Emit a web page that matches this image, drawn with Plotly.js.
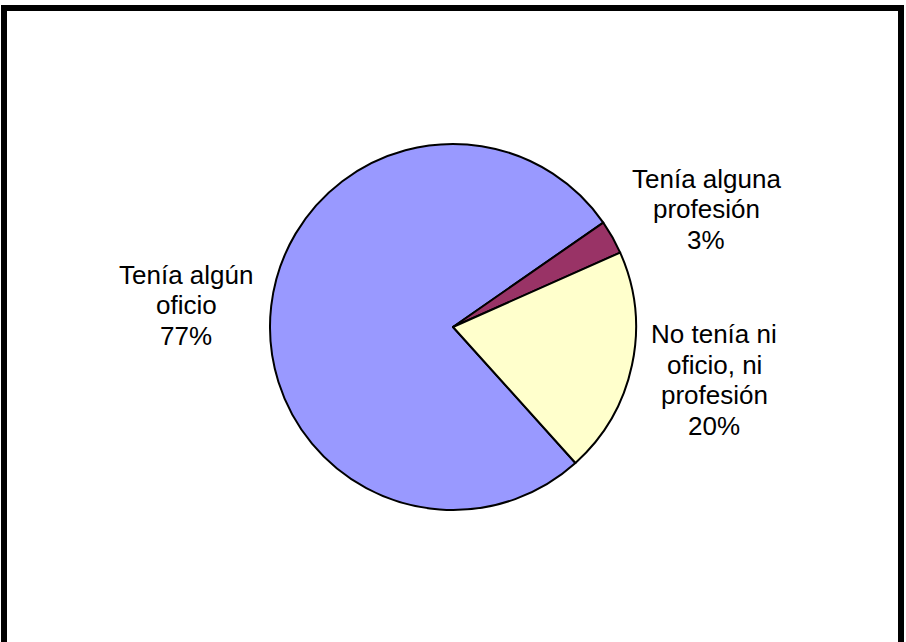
<!DOCTYPE html>
<html>
<head>
<meta charset="utf-8">
<script src="https://cdn.plot.ly/plotly-3.0.1.min.js"></script>
<style>html,body{margin:0;padding:0;background:#fff;}#chart{width:906px;height:642px;}</style>
</head>
<body>
<div id="chart"></div>
<script>
const categories = ["Tenía algún oficio", "Tenía alguna profesión", "No tenía ni oficio, ni profesión"];
const values = [77, 3, 20];
const labelLines = [
  ["Tenía algún", "oficio", "77%"],
  ["Tenía alguna", "profesión", "3%"],
  ["No tenía ni", "oficio, ni", "profesión", "20%"]
];
const sliceColors = ["#9999FF", "#993366", "#FFFFCC"];

const W = 906, H = 642;
// label block centers in pixels
const labelCenters = [[186, 305], [706, 209], [714, 380]];
const lineGap = 30.5;

const annotations = [];
labelLines.forEach((lines, i) => {
  const [cx, cy] = labelCenters[i];
  const n = lines.length;
  lines.forEach((t, j) => {
    const y = cy + (j - (n - 1) / 2) * lineGap;
    annotations.push({
      xref: 'paper', yref: 'paper',
      x: cx / W, y: 1 - y / H,
      xanchor: 'center', yanchor: 'middle',
      text: t, showarrow: false,
      font: {family: 'Liberation Sans, Arial, sans-serif', size: 26, color: '#000'}
    });
  });
});

const cx = 453, cy = 327, r = 183;
const trace = {
  type: 'pie',
  labels: categories,
  values: values,
  marker: {colors: sliceColors, line: {color: '#000', width: 2}},
  sort: false,
  direction: 'clockwise',
  rotation: 138,
  textinfo: 'none',
  hoverinfo: 'none',
  showlegend: false,
  domain: {x: [(cx - r) / W, (cx + r) / W], y: [(H - cy - r) / H, (H - cy + r) / H]}
};

const layout = {
  width: W, height: H,
  margin: {l: 0, r: 0, t: 0, b: 0},
  paper_bgcolor: '#fff',
  showlegend: false,
  annotations: annotations,
  shapes: [{
    type: 'rect', xref: 'paper', yref: 'paper',
    x0: 4 / W, x1: 901 / W, y0: -0.05, y1: 1 - 8 / H,
    line: {color: '#000', width: 6}, fillcolor: 'rgba(0,0,0,0)'
  }]
};

Plotly.newPlot('chart', [trace], layout, {displayModeBar: false, staticPlot: true});
</script>
</body>
</html>
